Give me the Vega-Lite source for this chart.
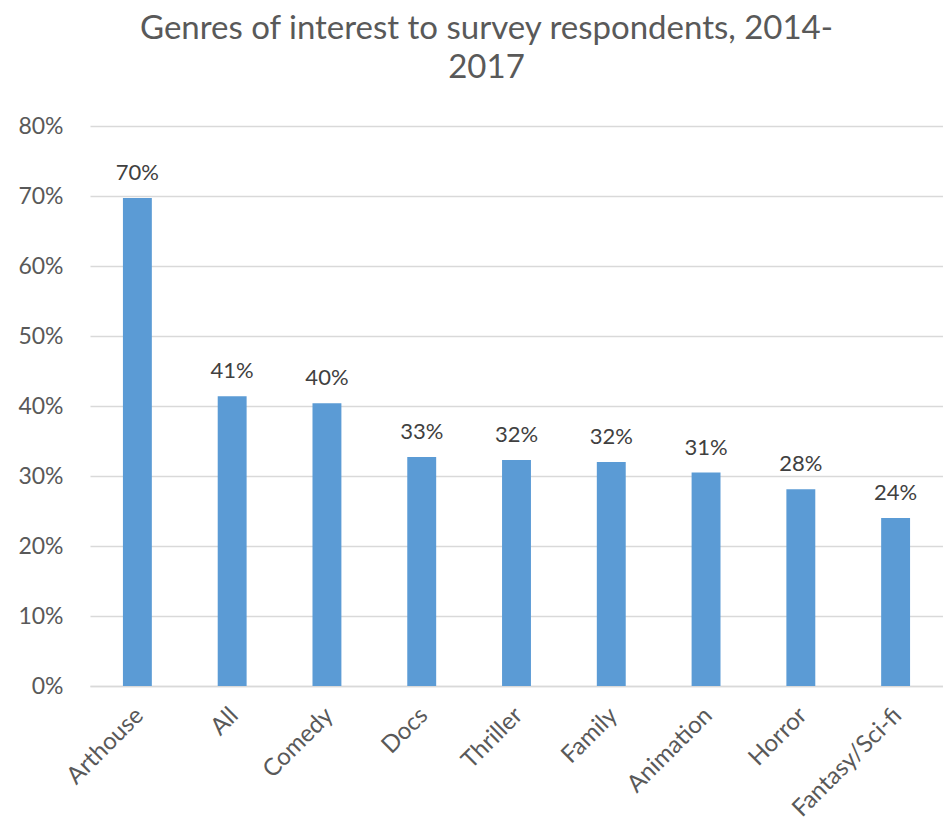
{
  "$schema": "https://vega.github.io/schema/vega-lite/v6.json",
  "autosize": "none",
  "width": 853,
  "height": 560,
  "padding": {"left": 90, "top": 126, "right": 0, "bottom": 138},
  "background": "white",
  "title": {
    "text": ["Genres of interest to survey respondents, 2014-", "2017"],
    "fontSize": 33,
    "font": "Lato",
    "fontWeight": "normal",
    "color": "#595959",
    "lineHeight": 39,
    "anchor": "middle",
    "dx": -30,
    "offset": 30
  },
  "data": {
    "values": [
      {"genre": "Arthouse", "share": 0.697},
      {"genre": "All", "share": 0.414},
      {"genre": "Comedy", "share": 0.404},
      {"genre": "Docs", "share": 0.327},
      {"genre": "Thriller", "share": 0.323},
      {"genre": "Family", "share": 0.320},
      {"genre": "Animation", "share": 0.305},
      {"genre": "Horror", "share": 0.281},
      {"genre": "Fantasy/Sci-fi", "share": 0.240}
    ]
  },
  "encoding": {
    "x": {
      "field": "genre",
      "type": "nominal",
      "sort": null,
      "title": null,
      "scale": {"paddingInner": 0.695, "paddingOuter": 0.3475},
      "axis": {
        "labelAngle": -45,
        "labelFontSize": 24,
        "labelFont": "Lato",
        "labelColor": "#595959",
        "labelPadding": 17,
        "labelOffset": -6,
        "ticks": false,
        "domainColor": "#d9d9d9",
        "domainWidth": 1.5
      }
    },
    "y": {
      "field": "share",
      "type": "quantitative",
      "title": null,
      "scale": {"domain": [0, 0.8]},
      "axis": {
        "values": [0, 0.1, 0.2, 0.3, 0.4, 0.5, 0.6, 0.7, 0.8],
        "format": ".0%",
        "labelFontSize": 23,
        "labelFont": "Lato",
        "labelColor": "#595959",
        "labelPadding": 27,
        "ticks": false,
        "domain": false,
        "gridColor": "#d9d9d9",
        "gridWidth": 1.5
      }
    }
  },
  "layer": [
    {"mark": {"type": "bar", "color": "#5b9bd5"}},
    {
      "mark": {
        "type": "text",
        "baseline": "bottom",
        "dy": -13,
        "fontSize": 22,
        "font": "Lato",
        "color": "#404040"
      },
      "encoding": {
        "text": {"field": "share", "type": "quantitative", "format": ".0%"}
      }
    }
  ],
  "config": {"view": {"stroke": null}}
}
